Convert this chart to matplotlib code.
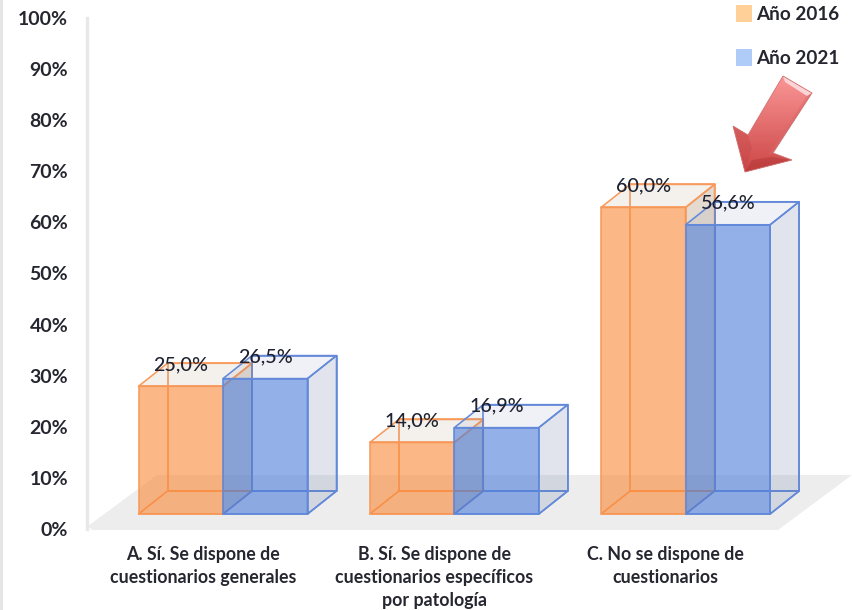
import numpy as np
import matplotlib
matplotlib.use("Agg")
import matplotlib.pyplot as plt
from matplotlib.patches import Polygon, Patch

categories = ["A. Sí. Se dispone de\ncuestionarios generales",
              "B. Sí. Se dispone de\ncuestionarios específicos\npor patología",
              "C. No se dispone de\ncuestionarios"]
values_2016 = [25.0, 14.0, 60.0]
values_2021 = [26.5, 16.9, 56.6]
y_ticks = list(range(0, 101, 10))

W, H = 852, 610
plt.rcParams['font.family'] = ['Lato', 'DejaVu Sans']
TEXT = '#262630'

fig = plt.figure(figsize=(W/100, H/100), dpi=100, facecolor='white')
left, right, top, bottom = 87, 852, 18, 529
ax = fig.add_axes([left/W, 1-bottom/H, (right-left)/W, (bottom-top)/H])
ax.set_ylim(0, 100)
unit_x = 231.3
ax.set_xlim((left-223)/unit_x, (right-223)/unit_x)
ax.patch.set_alpha(0)
px_y = (bottom-top)/100

base = 15/px_y            # front floor level above the axis zero
dx, dy = 29/unit_x, 23/px_y   # oblique depth of the 3-D columns
bw = 84.5/unit_x

def cuboid(x0, v, face, edge, shade, z):
    x1 = x0+bw
    y0 = base
    y1 = base+v
    edge_kw = dict(edgecolor=edge, linewidth=1.15, joinstyle='round', clip_on=False, zorder=z)
    # hidden edges first
    ax.add_patch(Polygon([(x0+dx, y0+dy), (x1+dx, y0+dy), (x1+dx, y1+dy), (x0+dx, y1+dy)],
                         fill=False, **edge_kw))
    ax.add_patch(Polygon([(x0, y0), (x1, y0), (x1+dx, y0+dy), (x0+dx, y0+dy)], fill=False, **edge_kw))
    # right side and top
    ax.add_patch(Polygon([(x1, y0), (x1+dx, y0+dy), (x1+dx, y1+dy), (x1, y1)],
                         facecolor=shade+(shade_alpha[0],), **edge_kw))
    ax.add_patch(Polygon([(x0, y1), (x1, y1), (x1+dx, y1+dy), (x0+dx, y1+dy)],
                         facecolor=shade+(shade_alpha[1],), **edge_kw))
    # front
    ax.add_patch(Polygon([(x0, y0), (x1, y0), (x1, y1), (x0, y1)],
                         facecolor=face+(0.6,), **edge_kw))

# floor
x_of = lambda px: (px-223)/unit_x
y_of = lambda py: (bottom-py)/px_y
ax.add_patch(Polygon([(x_of(88), y_of(526)), (x_of(92), y_of(530)), (x_of(778), y_of(530)),
                      (x_of(852), y_of(475)), (x_of(157), y_of(475))],
                     facecolor='#EDEDED', edgecolor='none', clip_on=False, zorder=1))

orange = (250/255, 136/255, 53/255)
blue = (76/255, 125/255, 217/255)
positions = np.arange(len(categories))
shade_alpha = (0.25, 0.10)
for i, v in zip(positions, values_2016):
    cuboid(i-bw, v, orange, '#F79A5C', (150/255, 110/255, 70/255), 2)
shade_alpha = (0.18, 0.09)
for i, v in zip(positions, values_2021):
    cuboid(i, v, blue, '#6389DA', (90/255, 110/255, 160/255), 3)

label_font = dict(fontsize=14.2, color='#1E2230', ha='center', va='center', zorder=6, fontweight='medium')
for i, a, b in zip(positions, values_2016, values_2021):
    ax.text(i-bw/2, base+a+4.2, f"{a:.1f}%".replace('.', ','), **label_font)
    ax.text(i+bw/2, base+b+4.2, f"{b:.1f}%".replace('.', ','), **label_font)

# axes
for s in ['top', 'right', 'bottom']:
    ax.spines[s].set_visible(False)
ax.spines['left'].set_color('#E8E8E8')
ax.spines['left'].set_linewidth(2.4)
ax.spines['left'].set_bounds(0, 100)
ax.set_yticks(y_ticks)
ax.set_yticklabels([f"{t}%" for t in y_ticks], fontsize=14, fontweight='bold', color=TEXT)
ax.tick_params(axis='y', length=0, pad=13.5)
ax.set_xticks(positions-20/unit_x)
ax.set_xticklabels(categories, fontsize=12.8, fontweight='bold', color=TEXT, linespacing=1.4)
ax.tick_params(axis='x', length=0, pad=12.5)

# legend
handles = [Patch(facecolor='#FFD199', edgecolor='none', label='Año 2016'),
           Patch(facecolor='#AFCBF8', edgecolor='none', label='Año 2021')]
leg = fig.legend(handles=handles, loc='upper left', bbox_to_anchor=(730.5/W, 1+1/H), frameon=False,
                 fontsize=13.6, labelspacing=1.38, handlelength=0.85, handleheight=1.0,
                 handletextpad=0.18, borderpad=0.3, borderaxespad=0)
for t in leg.get_texts():
    t.set_fontweight('bold')
    t.set_color(TEXT)

# overlay for the decorative arrow and the picture's border
ov = fig.add_axes([0, 0, 1, 1])
ov.set_xlim(0, W)
ov.set_ylim(H, 0)
ov.axis('off')
ov.patch.set_alpha(0)
arrow = [(783, 76), (812, 93), (773, 153), (792, 160), (745, 172), (733, 126), (748, 135)]
grad = np.linspace(0, 1, 256)[:, None]
c0, c1 = np.array([250, 150, 150])/255, np.array([205, 70, 70])/255
img = (c0[None, None, :]*(1-grad[..., None]) + c1[None, None, :]*grad[..., None])
im = ov.imshow(img, extent=(733, 812, 172, 76), aspect='auto', zorder=5)
clip = Polygon(arrow, closed=True, transform=ov.transData, facecolor='none', edgecolor='none')
ov.add_patch(clip)
im.set_clip_path(clip)
ov.add_patch(Polygon([(783, 76), (812, 93), (807, 96), (785, 82)], facecolor='#FBD5D5', edgecolor='none', zorder=6))
ov.add_patch(Polygon([(812, 93), (807, 96), (768, 155), (773, 153)], facecolor='#D86A6A', alpha=0.5, edgecolor='none', zorder=6))
ov.add_patch(Polygon([(733, 126), (748, 135), (752, 148), (745, 172)], facecolor='#C04545', alpha=0.35, edgecolor='none', zorder=6))
ov.add_patch(Polygon([(745, 172), (792, 160), (772, 157), (752, 160)], facecolor='#A83030', alpha=0.4, edgecolor='none', zorder=6))
ov.add_patch(Polygon(arrow, closed=True, fill=False, edgecolor='#D07070', linewidth=0.6, zorder=7))
ov.plot([1, 1], [0, H], color='#E4E4E4', lw=2, zorder=7)
ov.set_xlim(0, W)
ov.set_ylim(H, 0)

fig.savefig('out.png', dpi=100)
